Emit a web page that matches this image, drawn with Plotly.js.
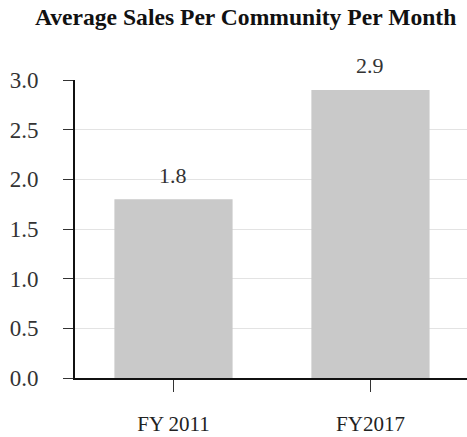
<!DOCTYPE html>
<html>
<head>
<meta charset="utf-8">
<script src="https://cdn.plot.ly/plotly-3.0.1.min.js"></script>
<style>html,body{margin:0;padding:0;background:#fff;}#chart{width:467px;height:437px;}</style>
</head>
<body>
<div id="chart"></div>
<script>
var categories = ["FY 2011", "FY2017"];
var values = [1.8, 2.9];
var valueLabels = ["1.8", "2.9"];
var yTickVals = [0, 0.5, 1, 1.5, 2, 2.5, 3];
var yTickText = ["0.0", "0.5", "1.0", "1.5", "2.0", "2.5", "3.0"];
var chartTitle = "Average Sales Per Community Per Month";

var serif = "Liberation Serif, Times New Roman, serif";
var positions = categories.map(function (c, i) { return i; });
var annotations = values.map(function (v, i) {
  return {
    x: positions[i], y: v, xref: "x", yref: "y",
    text: valueLabels[i], showarrow: false,
    yanchor: "middle", yshift: 24,
    font: {family: serif, size: 22, color: "#333"}
  };
});

Plotly.newPlot("chart", [{
  type: "bar",
  x: positions,
  y: values,
  width: 0.6,
  marker: {color: "#c9c9c9", line: {width: 0}},
  hoverinfo: "none"
}], {
  width: 467, height: 437,
  margin: {l: 75, r: 0, t: 80, b: 59},
  paper_bgcolor: "#fff", plot_bgcolor: "#fff",
  showlegend: false,
  annotations: annotations,
  title: {text: "<b>" + chartTitle + "</b>", font: {family: serif, size: 23.6, color: "#111"}, x: 0.526, xanchor: "center", y: 0.962, yanchor: "middle"},
  xaxis: {
    range: [-0.5, 1.49], tickvals: positions, ticktext: categories,
    showgrid: false, zeroline: false,
    showline: true, linecolor: "#111", linewidth: 2,
    ticks: "outside", ticklen: 12, tickcolor: "#333", tickwidth: 1,
    tickfont: {family: serif, size: 21, color: "#222"},
    ticklabelstandoff: 14
  },
  yaxis: {
    range: [0, 3], tickvals: yTickVals, ticktext: yTickText,
    showgrid: true, gridcolor: "#e3e3e3", gridwidth: 1, zeroline: false,
    showline: true, linecolor: "#111", linewidth: 2,
    ticks: "outside", ticklen: 10, tickcolor: "#333", tickwidth: 1,
    tickfont: {family: serif, size: 23, color: "#333"},
    ticklabelstandoff: 20
  }
}, {staticPlot: true, displayModeBar: false});
</script>
</body>
</html>
